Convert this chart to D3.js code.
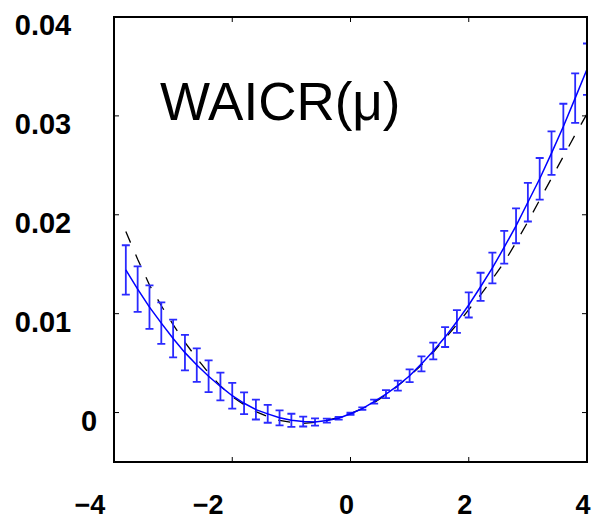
<!DOCTYPE html>
<html>
<head>
<meta charset="utf-8">
<script src="https://cdn.jsdelivr.net/npm/d3@7"></script>
<style>
  body { margin: 0; background: #fff; }
  svg { display: block; }
</style>
</head>
<body>
<svg id="chart" width="595" height="519"></svg>
<script>
// sample points of mu
const muValues = [-3.8, -3.6, -3.4, -3.2, -3.0, -2.8, -2.6, -2.4, -2.2, -2.0,
  -1.8, -1.6, -1.4, -1.2, -1.0, -0.8, -0.6, -0.4, -0.2, 0.0,
  0.2, 0.4, 0.6, 0.8, 1.0, 1.2, 1.4, 1.6, 1.8, 2.0,
  2.2, 2.4, 2.6, 2.8, 3.0, 3.2, 3.4, 3.6, 3.8, 4.0];

// mean WAICR (blue line)
const waicrMean = [0.01442, 0.01249, 0.01066, 0.00904, 0.00749, 0.00606, 0.00480, 0.00367, 0.00264, 0.00170,
  0.00094, 0.00030, -0.00013, -0.00053, -0.00078, -0.00091, -0.00095, -0.00081, -0.00058, -0.00012,
  0.00040, 0.00110, 0.00186, 0.00272, 0.00372, 0.00492, 0.00622, 0.00763, 0.00920, 0.01088,
  0.01272, 0.01462, 0.01672, 0.01888, 0.02127, 0.02364, 0.02624, 0.02893, 0.03180, 0.03472];

// half length of the error bars
const waicrErr = [0.0025, 0.0023, 0.0022, 0.0021, 0.0019, 0.0018, 0.0017, 0.0016, 0.0014, 0.0013,
  0.0011, 0.0010, 0.0009, 0.00076, 0.00066, 0.0005, 0.00037, 0.0002, 0.00013, 0.0001,
  0.00012, 0.0002, 0.0004, 0.0005, 0.00064, 0.00076, 0.00085, 0.0010, 0.00115, 0.00127,
  0.00142, 0.00155, 0.00166, 0.00176, 0.00195, 0.0021, 0.0022, 0.0023, 0.0025, 0.0026];

// theoretical curve (black dashed)
const waicrTheory = [0.0183, 0.0155, 0.0129, 0.0108, 0.0089, 0.0071, 0.0055, 0.0040, 0.0027, 0.0016,
  0.0008, 0.0001, -0.0004, -0.0008, -0.0010, -0.0011, -0.0010, -0.0008, -0.0005, -0.0001,
  0.0004, 0.0010, 0.0018, 0.0027, 0.0037, 0.0048, 0.0061, 0.0075, 0.0089, 0.0104,
  0.0119, 0.0135, 0.0152, 0.0172, 0.0193, 0.0215, 0.0237, 0.0259, 0.0281, 0.0302];

const xTicks = [-4, -2, 0, 2, 4];
const yTicks = [0, 0.01, 0.02, 0.03, 0.04];
const yTickLabels = ["0", "0.01", "0.02", "0.03", "0.04"];
const titleText = "WAICR(\u03bc)";

const svg = d3.select("#chart");

// axes box in pixels
const boxLeft = 114, boxRight = 587, boxTop = 17, boxBottom = 462;

const x = d3.scaleLinear().domain([-4, 4]).range([boxLeft, boxRight]);
const y = d3.scaleLinear().domain([-0.005, 0.04]).range([boxBottom, boxTop]);

// clip everything to the axes box
svg.append("clipPath")
  .attr("id", "plot-clip")
  .append("rect")
  .attr("x", boxLeft)
  .attr("y", boxTop)
  .attr("width", boxRight - boxLeft)
  .attr("height", boxBottom - boxTop);

const plot = svg.append("g").attr("clip-path", "url(#plot-clip)");

const points = muValues.map((m, i) => ({ mu: m, mean: waicrMean[i], err: waicrErr[i], theory: waicrTheory[i] }));

// dashed theoretical curve
plot.append("path")
  .datum(points)
  .attr("fill", "none")
  .attr("stroke", "#000")
  .attr("stroke-width", 1.3)
  .attr("stroke-dasharray", "12,13")
  .attr("d", d3.line().x(d => x(d.mu)).y(d => y(d.theory)));

// error bars
const capHalf = 4;
const bars = plot.append("g")
  .attr("stroke", "#2a2aff")
  .attr("stroke-width", 1.8)
  .attr("fill", "none");

bars.selectAll("path")
  .data(points)
  .join("path")
  .attr("d", d => {
    const cx = x(d.mu);
    const y1 = y(d.mean + d.err);
    const y2 = y(d.mean - d.err);
    return `M${cx},${y1}V${y2}M${cx - capHalf},${y1}H${cx + capHalf}M${cx - capHalf},${y2}H${cx + capHalf}`;
  });

// mean line
plot.append("path")
  .datum(points)
  .attr("fill", "none")
  .attr("stroke", "#0000ff")
  .attr("stroke-width", 1.5)
  .attr("d", d3.line().x(d => x(d.mu)).y(d => y(d.mean)));

// inward ticks on all four sides
const tickLen = 5;
const innerX = xTicks.filter(d => d > -4 && d < 4);
const innerY = yTicks.filter(d => d > -0.005 && d < 0.04);

const ticks = svg.append("g").attr("stroke", "#000").attr("stroke-width", 1);
innerX.forEach(d => {
  ticks.append("line").attr("x1", x(d)).attr("x2", x(d)).attr("y1", boxBottom).attr("y2", boxBottom - tickLen);
  ticks.append("line").attr("x1", x(d)).attr("x2", x(d)).attr("y1", boxTop).attr("y2", boxTop + tickLen);
});
innerY.forEach(d => {
  ticks.append("line").attr("x1", boxLeft).attr("x2", boxLeft + tickLen).attr("y1", y(d)).attr("y2", y(d));
  ticks.append("line").attr("x1", boxRight).attr("x2", boxRight - tickLen).attr("y1", y(d)).attr("y2", y(d));
});

// frame
svg.append("rect")
  .attr("x", boxLeft)
  .attr("y", boxTop)
  .attr("width", boxRight - boxLeft)
  .attr("height", boxBottom - boxTop)
  .attr("fill", "none")
  .attr("stroke", "#000")
  .attr("stroke-width", 2);

// x tick labels
svg.append("g")
  .selectAll("text")
  .data(xTicks)
  .join("text")
  .attr("x", d => x(d) + (d < 0 ? -24 : -4))
  .attr("y", 514)
  .attr("text-anchor", "middle")
  .attr("font-family", "'Liberation Sans', Arial, sans-serif")
  .attr("font-weight", "bold")
  .attr("font-size", "27px")
  .attr("fill", "#000")
  .text(d => d < 0 ? "\u2212" + Math.abs(d) : String(d));

// y tick labels
svg.append("g")
  .selectAll("text")
  .data(yTicks)
  .join("text")
  .attr("x", d => d === 0 ? boxLeft - 25 : boxLeft - 71)
  .attr("y", d => y(d) + 18)
  .attr("text-anchor", "middle")
  .attr("font-family", "'Liberation Sans', Arial, sans-serif")
  .attr("font-weight", "bold")
  .attr("font-size", "29px")
  .attr("fill", "#000")
  .text((d, i) => yTickLabels[i]);

// title inside the axes
svg.append("text")
  .attr("x", 160)
  .attr("y", 120)
  .attr("font-family", "'Liberation Sans', Arial, sans-serif")
  .attr("font-size", "53px")
  .attr("fill", "#000")
  .text(titleText);
</script>
</body>
</html>
